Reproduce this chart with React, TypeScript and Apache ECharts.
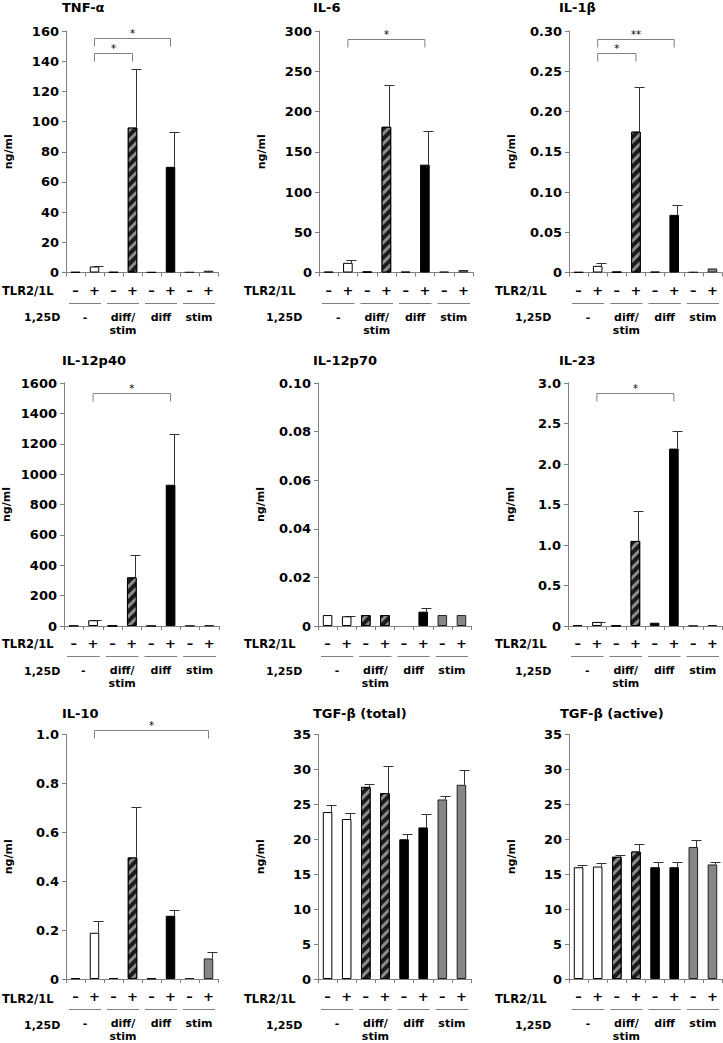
import React, { useEffect, useRef } from 'react';
import * as echarts from 'echarts';

// ---------- data ----------
const TLR_LABELS = ['–', '+', '–', '+', '–', '+', '–', '+'];
const GROUP_LABELS = ['-', 'diff/\nstim', 'diff', 'stim'];
const TITLES = ['TNF-α', 'IL-6', 'IL-1β', 'IL-12p40', 'IL-12p70', 'IL-23', 'IL-10', 'TGF-β (total)', 'TGF-β (active)'];

const tnfMean = [0.3, 4.0, 0.2, 96, 0.2, 70, 0.2, 1.2];
const tnfSd = [0, 0.6, 0, 39, 0, 23, 0, 0];
const il6Mean = [1, 12, 1, 181, 1, 134, 1, 3];
const il6Sd = [0, 3, 0, 52, 0, 42, 0, 0];
const il1bMean = [0.0005, 0.0083, 0.0008, 0.175, 0.001, 0.0716, 0.0005, 0.005];
const il1bSd = [0, 0.0033, 0, 0.055, 0, 0.0124, 0, 0];
const il12p40Mean = [2, 38, 2, 320, 1, 930, 2, 4];
const il12p40Sd = [0, 4, 0, 148, 0, 331, 0, 0];
const il12p70Mean = [0.0045, 0.004, 0.0045, 0.0045, 0, 0.0059, 0.0045, 0.0045];
const il12p70Sd = [0, 0.0002, 0, 0, 0, 0.0017, 0, 0];
const il23Mean = [0.01, 0.05, 0.005, 1.05, 0.04, 2.19, 0.005, 0.01];
const il23Sd = [0, 0.005, 0, 0.365, 0, 0.22, 0, 0];
const il10Mean = [0.003, 0.189, 0.004, 0.497, 0.002, 0.2585, 0.004, 0.084];
const il10Sd = [0, 0.049, 0, 0.208, 0, 0.0245, 0, 0.025];
const tgfTotalMean = [23.9, 22.9, 27.5, 26.6, 20.0, 21.7, 25.7, 27.8];
const tgfTotalSd = [1.06, 0.8, 0.46, 3.9, 0.7, 1.9, 0.5, 2.15];
const tgfActiveMean = [16.0, 16.1, 17.5, 18.25, 16.0, 16.0, 18.9, 16.4];
const tgfActiveSd = [0.3, 0.5, 0.3, 1.1, 0.7, 0.7, 1.0, 0.4];

const MEANS = [tnfMean, il6Mean, il1bMean, il12p40Mean, il12p70Mean, il23Mean, il10Mean, tgfTotalMean, tgfActiveMean];
const SDS = [tnfSd, il6Sd, il1bSd, il12p40Sd, il12p70Sd, il23Sd, il10Sd, tgfTotalSd, tgfActiveSd];

const Y_MAX = [160, 300, 0.3, 1600, 0.1, 3, 1, 35, 35];
const Y_STEP = [20, 50, 0.05, 200, 0.02, 0.5, 0.2, 5, 5];
const Y_DEC = [0, 0, 2, 0, 2, 1, 1, 0, 0];

// significance brackets: [fromCategory, toCategory, bracketHeight, label]
const tnfSig: [number, number, number, string][] = [[1, 3, 145.5, '*'], [1, 5, 155.4, '*']];
const il6Sig: [number, number, number, string][] = [[1, 5, 290, '*']];
const il1bSig: [number, number, number, string][] = [[1, 3, 0.2726, '*'], [1, 5, 0.29, '**']];
const il12p40Sig: [number, number, number, string][] = [[1, 5, 1534, '*']];
const il12p70Sig: [number, number, number, string][] = [];
const il23Sig: [number, number, number, string][] = [[1, 5, 2.877, '*']];
const il10Sig: [number, number, number, string][] = [[1, 7, 1.02, '*']];
const SIGS = [tnfSig, il6Sig, il1bSig, il12p40Sig, il12p70Sig, il23Sig, il10Sig, [], []];

// ---------- layout ----------
const FONT = '"DejaVu Sans", "Liberation Sans", Arial, sans-serif';
const GRID_LEFT = [66, 319, 569, 64, 318, 568, 66, 318, 569];
const GRID_WIDTH = [152, 154, 153, 155, 153, 154, 152, 153, 153];
const ROW_TOP = [31, 383, 734.5];
const ROW_H = [241.5, 243, 246];
const TITLE_LEFT = [62, 313, 559, 62, 313, 559, 62, 313, 560];
const TITLE_Y = [8, 361, 714];
const TLR_X = [2, 244, 495];
const D_X = [24, 266, 515];

const WHITE = { color: '#ffffff', borderColor: '#000', borderWidth: 1 };
const HATCH = {
  color: '#1c1c1c', borderColor: '#000', borderWidth: 1,
  decal: { symbol: 'rect', symbolSize: 1, color: '#8c8c8c', dashArrayX: [1, 0], dashArrayY: [3, 4], rotation: -Math.PI / 4 },
};
const BLACK = { color: '#000000', borderColor: '#000', borderWidth: 1 };
const GRAY = { color: '#868686', borderColor: '#222', borderWidth: 1 };
const CAT_STYLE = [WHITE, WHITE, HATCH, HATCH, BLACK, BLACK, GRAY, GRAY];

function buildOption() {
  const grid: any[] = [];
  const xMain: any[] = [];
  const xGroup: any[] = [];
  const yAxis: any[] = [];
  const series: any[] = [];
  const title: any[] = [];
  const graphic: any[] = [];

  for (let k = 0; k < 9; k++) {
    const row = Math.floor(k / 3);
    const col = k % 3;
    const top = ROW_TOP[row];
    const h = ROW_H[row];
    const left = GRID_LEFT[k];
    const axisY = top + h;
    grid.push({ left, top, width: GRID_WIDTH[k], height: h });
    xMain.push({
      type: 'category', gridIndex: k, data: TLR_LABELS, position: 'bottom',
      axisLine: { show: true, lineStyle: { color: '#808080', width: 1 } },
      axisTick: { show: true, length: 4, lineStyle: { color: '#808080' } },
      axisLabel: { interval: 0, margin: 11, fontFamily: FONT, fontWeight: 'bold', fontSize: 13, color: '#000' },
    });
    xGroup.push({
      type: 'category', gridIndex: k, data: GROUP_LABELS, position: 'bottom', offset: 0,
      axisLine: { show: false }, axisTick: { show: false }, splitLine: { show: false },
      axisLabel: { interval: 0, margin: 38, lineHeight: 13, fontFamily: FONT, fontWeight: 'bold', fontSize: 11, color: '#000' },
    });
    const dec = Y_DEC[k];
    yAxis.push({
      type: 'value', gridIndex: k, min: 0, max: Y_MAX[k], interval: Y_STEP[k],
      axisLine: { show: true, lineStyle: { color: '#808080', width: 1 } },
      axisTick: { show: true, length: 4, lineStyle: { color: '#808080' } },
      splitLine: { show: false },
      axisLabel: {
        margin: 7, fontFamily: FONT, fontWeight: 'bold', fontSize: 13, color: '#000',
        formatter: (v: number) => (Math.abs(v) < 1e-9 ? '0' : v.toFixed(dec)),
      },
      name: 'ng/ml', nameLocation: 'middle', nameGap: 52, nameRotate: 90,
      nameTextStyle: { fontFamily: FONT, fontWeight: 'bold', fontSize: 11, color: '#000' },
    });

    const means = MEANS[k];
    const sds = SDS[k];
    series.push({
      type: 'bar', xAxisIndex: k, yAxisIndex: k, barWidth: '50%', silent: true,
      data: means.map((v, i) => (v === 0 ? '-' : { value: v, itemStyle: CAT_STYLE[i] })),
    });
    const errData = means.map((v, i) => [i, v, sds[i]]).filter((d) => d[2] > 0);
    series.push({
      type: 'custom', xAxisIndex: k, yAxisIndex: k, silent: true,
      encode: { x: 0, y: 1 },
      data: errData,
      renderItem: (params: any, api: any) => {
        const i = api.value(0), m = api.value(1), s = api.value(2);
        const p0 = api.coord([i, m]);
        const p1 = api.coord([i, m + s]);
        const x = Math.round(p0[0] + 3) + 0.5;
        const y1 = Math.round(p1[1]) + 0.5;
        return {
          type: 'group',
          children: [
            { type: 'line', shape: { x1: x, y1: p0[1], x2: x, y2: y1 }, style: { stroke: '#333', lineWidth: 1 } },
            { type: 'line', shape: { x1: x - 5, y1, x2: x + 5, y2: y1 }, style: { stroke: '#333', lineWidth: 1 } },
          ],
        };
      },
    });
    // group underline segments
    series.push({
      type: 'custom', xAxisIndex: k, yAxisIndex: k, silent: true,
      encode: { x: 0, y: 1 },
      data: [[0, 0], [2, 0], [4, 0], [6, 0]],
      renderItem: (params: any, api: any) => {
        const c = api.coord([api.value(0), 0]);
        const w = api.size([1, 0])[0];
        const y = Math.round(c[1] + 30) + 0.5;
        return {
          type: 'line',
          shape: { x1: c[0] - w / 2 + 3, y1: y, x2: c[0] + 1.5 * w - 3, y2: y },
          style: { stroke: '#808080', lineWidth: 1 },
        };
      },
    });
    const sig = SIGS[k] as [number, number, number, string][];
    if (sig.length) {
      series.push({
        type: 'custom', xAxisIndex: k, yAxisIndex: k, silent: true,
        encode: { x: 0, y: 1 },
        data: sig.map((s) => [s[0], s[2], s[1]]),
        renderItem: (params: any, api: any) => {
          const a = api.coord([api.value(0), api.value(1)]);
          const b = api.coord([api.value(2), api.value(1)]);
          const y = Math.round(a[1]) + 0.5;
          const label = sig[params.dataIndex][3];
          return {
            type: 'group',
            children: [
              {
                type: 'polyline',
                shape: { points: [[a[0], y + 8], [a[0], y], [b[0], y], [b[0], y + 8]] },
                style: { stroke: '#808080', lineWidth: 1, fill: 'none' },
              },
              {
                type: 'text',
                x: (a[0] + b[0]) / 2, y: y - 5,
                style: { text: label, align: 'center', verticalAlign: 'middle', fontSize: 10, fontFamily: FONT, fill: '#000' },
              },
            ],
          };
        },
      });
    }

    title.push({
      text: TITLES[k], left: TITLE_LEFT[k], top: TITLE_Y[row] - 7, padding: 0,
      textStyle: { fontFamily: FONT, fontWeight: 'bold', fontSize: 13, color: '#000' },
    });
    graphic.push({
      type: 'text', x: TLR_X[col], y: axisY + 18,
      style: { text: 'TLR2/1L', align: 'left', verticalAlign: 'middle', fontFamily: FONT, fontWeight: 'bold', fontSize: 11.5, fill: '#000' },
    });
    graphic.push({
      type: 'text', x: D_X[col], y: axisY + 45,
      style: { text: '1,25D', align: 'left', verticalAlign: 'middle', fontFamily: FONT, fontWeight: 'bold', fontSize: 11, fill: '#000' },
    });
  }

  return {
    animation: false,
    backgroundColor: '#ffffff',
    title,
    grid,
    xAxis: [...xMain, ...xGroup],
    yAxis,
    series,
    graphic,
  };
}

export default function App() {
  const ref = useRef<HTMLDivElement>(null);
  useEffect(() => {
    if (!ref.current) return;
    const chart = echarts.init(ref.current, null, { renderer: 'svg' });
    chart.setOption(buildOption() as any);
    return () => chart.dispose();
  }, []);
  return (
    <div
      ref={ref}
      style={{ position: 'absolute', left: 0, top: 0, width: 723, height: 1043, background: '#fff' }}
    />
  );
}
